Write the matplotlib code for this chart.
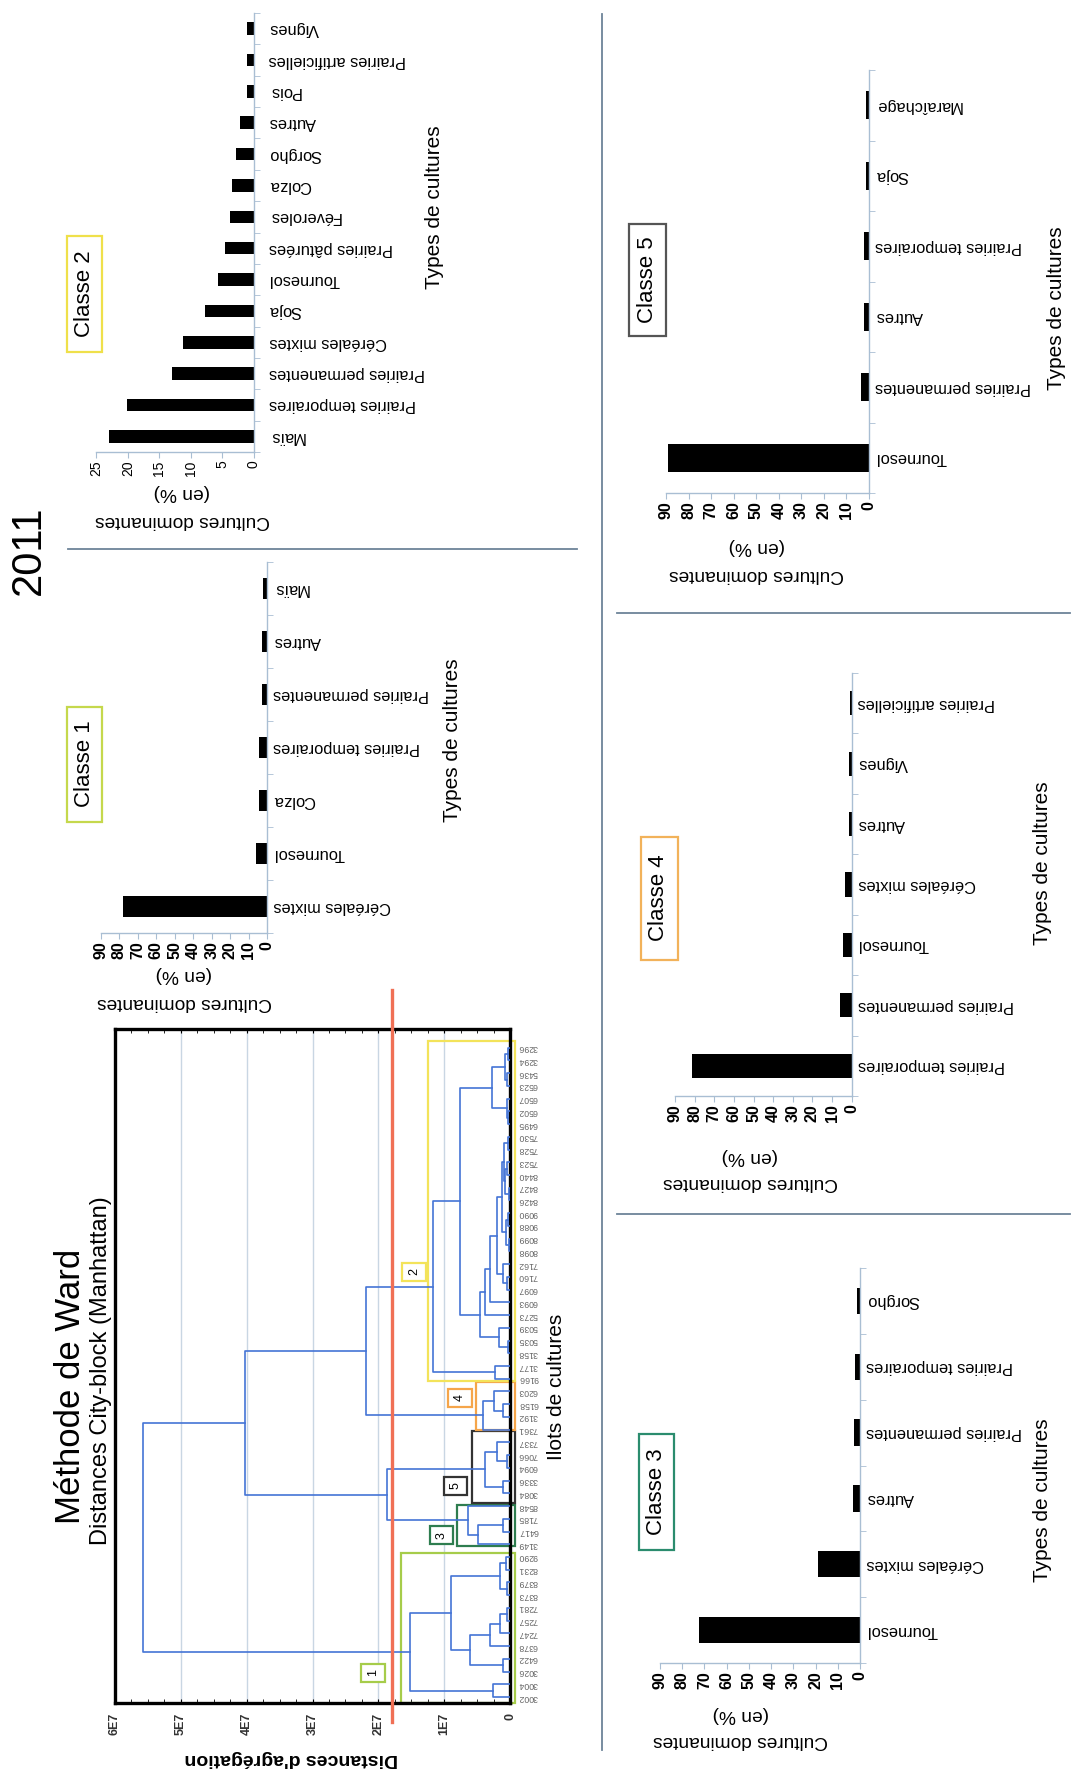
import numpy as np
import matplotlib.pyplot as plt
from matplotlib.patches import Rectangle

plt.rcParams['font.family'] = ['Liberation Sans', 'DejaVu Sans']

W, H = 1072, 1775

# ---- bar charts: categories listed from the first (largest) bar outward ----
classe1_cats = ['Céréales mixtes', 'Tournesol', 'Colza', 'Prairies temporaires',
                'Prairies permanentes', 'Autres', 'Maïs']
classe1_vals = [78, 5.8, 4.5, 4.1, 2.9, 2.9, 1.9]

classe2_cats = ['Maïs', 'Prairies temporaires', 'Prairies permanentes', 'Céréales mixtes',
                'Soja', 'Tournesol', 'Prairies pâturées', 'Féveroles', 'Colza', 'Sorgho',
                'Autres', 'Pois', 'Prairies artificielles', 'Vignes']
classe2_vals = [23.0, 20.2, 12.9, 11.2, 7.8, 5.7, 4.5, 3.7, 3.4, 2.8, 2.1, 1.1, 1.1, 1.0]

classe3_cats = ['Tournesol', 'Céréales mixtes', 'Autres', 'Prairies permanentes',
                'Prairies temporaires', 'Sorgho']
classe3_vals = [72.3, 18.7, 3.3, 2.7, 2.2, 1.2]

classe4_cats = ['Prairies temporaires', 'Prairies permanentes', 'Tournesol',
                'Céréales mixtes', 'Autres', 'Vignes', 'Prairies artificielles']
classe4_vals = [81.2, 5.9, 4.6, 3.4, 1.5, 1.5, 0.9]

classe5_cats = ['Tournesol', 'Prairies permanentes', 'Autres', 'Prairies temporaires',
                'Soja', 'Maraîchage']
classe5_vals = [89.3, 3.4, 2.4, 2.4, 1.5, 1.2]

# ---- dendrogram (Ward): leaves from bottom to top, merges (a, b, height in 1E7) ----
leaf_labels = ['3002', '3004', '3026', '6422', '6378', '7247', '7257', '7281', '8373',
               '8379', '8231', '9290', '3149', '6417', '7185', '8548', '3084', '3336',
               '6094', '7066', '7337', '7361', '3192', '6158', '6203', '9166', '3177',
               '3158', '5035', '5039', '5273', '6093', '6097', '7160', '7162', '8098',
               '8099', '9088', '9090', '8426', '8427', '8440', '7523', '7528', '7530',
               '6495', '6502', '6507', '6523', '5436', '3294', '3296']
merges = [(0, 1, 0.26), (2, 3, 0.10), (6, 7, 0.05), (5, 54, 0.15), (4, 55, 0.30),
          (53, 56, 0.61), (8, 9, 0.04), (10, 11, 0.06), (58, 59, 0.15), (57, 60, 0.89),
          (52, 61, 1.52),
          (13, 14, 0.10), (12, 63, 0.48), (64, 15, 0.64),
          (16, 17, 0.10), (18, 19, 0.05), (67, 20, 0.20), (66, 68, 0.38),
          (65, 69, 1.87),
          (22, 23, 0.10), (71, 24, 0.25), (21, 72, 0.41),
          (25, 26, 0.23), (27, 28, 0.03), (75, 29, 0.16), (32, 33, 0.04), (77, 34, 0.10),
          (35, 36, 0.02), (37, 38, 0.03), (79, 80, 0.06), (39, 40, 0.02), (41, 42, 0.04),
          (82, 83, 0.07), (43, 44, 0.03), (84, 85, 0.09), (81, 86, 0.12), (78, 87, 0.20),
          (31, 88, 0.30), (30, 89, 0.38), (76, 90, 0.46), (45, 46, 0.03), (92, 47, 0.05),
          (48, 49, 0.04), (50, 51, 0.03), (94, 95, 0.08), (93, 96, 0.28), (91, 97, 0.76),
          (74, 98, 1.17),
          (99, 73, 2.18), (100, 70, 4.02), (62, 101, 5.57)]
cut_height = 1.79
dist_ticks = ['0', '1E7', '2E7', '3E7', '4E7', '5E7', '6E7']

AXC = '#a9bed3'
SEPC = '#6d8499'
DENDC = '#4474d6'

fig = plt.figure(figsize=(W / 100, H / 100), dpi=100)
ov = fig.add_axes([0, 0, 1, 1])
ov.set_xlim(0, W)
ov.set_ylim(H, 0)
ov.axis('off')


def px_axes(x0, y0, x1, y1):
    return fig.add_axes([x0 / W, 1 - y1 / H, (x1 - x0) / W, (y1 - y0) / H])


def bar_panel(cats, vals, xmax, step, box, bold=True, tfs=11.5, pad=4.5):
    ax = px_axes(*box)
    pos = np.arange(len(cats))
    ax.barh(pos, vals, height=0.4, color='black')
    ax.set_xlim(xmax, 0)
    ax.set_ylim(-0.5, len(cats) - 0.5)
    ax.patch.set_alpha(0)
    for s in ['top', 'left']:
        ax.spines[s].set_visible(False)
    for s in ['right', 'bottom']:
        ax.spines[s].set_color(AXC)
        ax.spines[s].set_linewidth(1)
    ticks = np.arange(0, xmax + 1, step)
    ax.set_xticks(ticks)
    ax.set_xticklabels([str(t) for t in ticks], rotation=90, fontsize=tfs,
                       fontweight='bold' if bold else 'normal')
    ax.tick_params(axis='x', length=4, color=AXC, pad=2)
    ax.yaxis.tick_right()
    ax.set_yticks(pos)
    ax.set_yticklabels(cats, rotation=180, fontsize=11.8)
    for lb in ax.get_yticklabels():
        lb.set_va('center')
    ax.set_yticks(np.arange(len(cats) + 1) - 0.5, minor=True)
    ax.tick_params(axis='y', which='major', length=0, pad=pad)
    ax.tick_params(axis='y', which='minor', length=4, color=AXC, direction='out')
    return ax


def panel_texts(title, color, cxy, size, cx, en_y, cd_y, types_xy):
    w, h = size
    ov.add_patch(Rectangle((cxy[0] - w / 2, cxy[1] - h / 2), w, h, fill=False,
                           ec=color, lw=1.6))
    ov.text(cxy[0], cxy[1], title, rotation=90, fontsize=16, ha='center', va='center')
    ov.text(cx, en_y, '(en %)', rotation=180, fontsize=13.8, ha='center', va='center')
    ov.text(cx, cd_y, 'Cultures dominantes', rotation=180, fontsize=13.8,
            ha='center', va='center')
    ov.text(types_xy[0], types_xy[1], 'Types de cultures', rotation=90, fontsize=15,
            ha='center', va='center')


bar_panel(classe2_cats, classe2_vals, 25, 5, (96.4, 13, 253.6, 452), bold=False, tfs=10, pad=11)
panel_texts('Classe 2', '#efe04a', (84.5, 294), (35, 116), 182, 493, 521, (434, 207))

bar_panel(classe1_cats, classe1_vals, 90, 10, (101, 562, 267, 933))
panel_texts('Classe 1', '#c5d84c', (84.5, 764), (35, 115), 184, 975, 1003, (452, 740))

bar_panel(classe5_cats, classe5_vals, 90, 10, (666, 70, 869, 493))
panel_texts('Classe 5', '#555555', (647.5, 280), (37, 112), 757, 547, 575, (1057, 308))

bar_panel(classe4_cats, classe4_vals, 90, 10, (675, 673, 851.7, 1096))
panel_texts('Classe 4', '#f2b25a', (659, 898), (37, 123), 750, 1157, 1183, (1042, 863))

bar_panel(classe3_cats, classe3_vals, 90, 10, (660, 1268, 860, 1663))
panel_texts('Classe 3', '#2b8c6e', (656.5, 1492), (35, 116), 741, 1715, 1740, (1043, 1500))

# separators and titles
ov.plot([68, 577], [549, 549], color=SEPC, lw=1.3)
ov.plot([602, 602], [14, 1750], color=SEPC, lw=1.3)
ov.plot([617, 1070], [613, 613], color=SEPC, lw=1.3)
ov.plot([617, 1070], [1214, 1214], color=SEPC, lw=1.3)
ov.text(29, 550, '2011', rotation=90, fontsize=30, ha='center', va='center')
ov.text(70, 1386, 'Méthode de Ward', rotation=90, fontsize=25, ha='center', va='center')
ov.text(101, 1371, 'Distances City-block (Manhattan)', rotation=90, fontsize=17,
        ha='center', va='center')
ov.text(557, 1387, 'Ilots de cultures', rotation=90, fontsize=15, ha='center', va='center')
ov.text(291, 1758, "Distances d'agrégation", rotation=180, fontsize=14, fontweight='bold',
        ha='center', va='center')

# ---- dendrogram ----
dx = px_axes(115, 1029, 510, 1703)
n = len(leaf_labels)
pos = [float(i) for i in range(n)]
hts = [0.0] * n
for a, b, h in merges:
    dx.plot([hts[a], h, h, hts[b]], [pos[a], pos[a], pos[b], pos[b]],
            color=DENDC, lw=1.2, zorder=3)
    pos.append((pos[a] + pos[b]) / 2)
    hts.append(h)
dx.set_xlim(6, 0)
dx.set_ylim(-0.47, 52.47)
for s in dx.spines.values():
    s.set_linewidth(2.4)
    s.set_color('black')
dx.set_xticks(range(7))
dx.set_xticklabels(dist_ticks, rotation=90, fontsize=9, fontweight='bold', color='#333333')
dx.set_xticks(np.arange(0, 6.01, 0.25), minor=True)
dx.tick_params(axis='x', which='both', direction='in', top=True, length=3, pad=7)
dx.grid(axis='x', color='#c9d6e3', lw=1)
dx.yaxis.tick_right()
dx.set_yticks(range(n))
dx.set_yticklabels(leaf_labels, rotation=180, fontsize=6.3, color='#666666')
for lb in dx.get_yticklabels():
    lb.set_va('center')
dx.tick_params(axis='y', length=0, pad=6)

# cluster boxes: (label, low, high, left height, colour, label height, label position)
boxes = [('1', -0.47, 11.35, 1.65, '#a6cc4a', 2.08, 1.9),
         ('3', 11.9, 15.05, 0.80, '#2e7d4f', 1.04, 12.7),
         ('5', 15.25, 20.9, 0.57, '#333333', 0.83, 16.6),
         ('4', 20.95, 24.77, 0.51, '#f5a54a', 0.76, 23.5),
         ('2', 24.8, 51.5, 1.24, '#f3e35a', 1.46, 33.4)]
for lab, lo, hi, left, col, lh, lp in boxes:
    dx.add_patch(Rectangle((-0.08, lo), left + 0.08, hi - lo, fill=False, ec=col,
                           lw=1.6, clip_on=False, zorder=2))
    dx.text(lh, lp, lab, rotation=90, fontsize=9, ha='center', va='center', zorder=6,
            bbox=dict(boxstyle='square,pad=0.45', fc='white', ec=col, lw=1.6))
dx.plot([cut_height, cut_height], [55.5, -1.95], color='#f07055', lw=2.4,
        clip_on=False, zorder=5)

fig.savefig('out.png', dpi=100)
